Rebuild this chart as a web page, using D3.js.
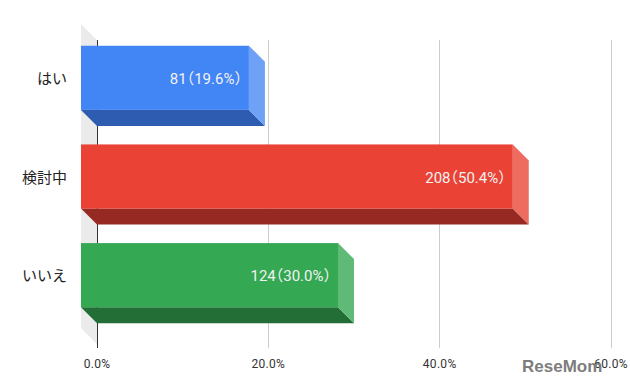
<!DOCTYPE html>
<meta charset="utf-8">
<style>
body { margin: 0; background: #fff; font-family: Roboto, 'Noto Sans CJK JP', sans-serif; }
.grid line { stroke: #cccccc; stroke-width: 1px; shape-rendering: crispEdges; }
.tick-label { font-size: 12px; fill: #333; text-anchor: middle; letter-spacing: 0.3px; }
.cat-label { font-family: 'Noto Sans CJK JP', sans-serif; font-size: 15px; fill: #222; text-anchor: end; }
.data-label { font-family: Roboto, 'Noto Sans CJK JP', sans-serif; font-size: 15px; fill: #f2f2f2; text-anchor: end; font-feature-settings: "halt" 1; }
.watermark { font-family: 'Liberation Sans', sans-serif; font-weight: bold; font-size: 17px; fill: #7d7d7d; }
</style>
<body>
<svg width="630" height="390"></svg>
<script src="https://d3js.org/d3.v7.min.js"></script>
<script>
// 3D-style horizontal bar chart
var categories = ["はい", "検討中", "いいえ"];
var counts = [81, 208, 124];
var percents = [19.6, 50.4, 30.0];
var ticks = [0, 20, 40, 60];
var faceColors = ["#4285f4", "#ea4335", "#34a853"];
var bottomColors = ["#2e5cb0", "#962a22", "#236e37"];
var sideColors = ["#6fa2f7", "#ee6b60", "#5fba78"];

var svg = d3.select("svg");
var depth = 16;

// back plane scale
var x = d3.scaleLinear().domain([0, 60]).range([97, 611]);
// front plane bands
var y = d3.scaleBand().domain(categories).range([28, 325])
    .paddingInner(0.35).paddingOuter(0.18);

var backTop = 40, backBottom = 344;

// left wall
svg.append("polygon")
    .attr("points", [[x(0) - depth, backTop - depth], [x(0), backTop],
                     [x(0), backBottom], [x(0) - depth, backBottom - depth]].join(" "))
    .attr("fill", "#ebebeb");

// gridlines
svg.append("g").attr("class", "grid")
  .selectAll("line")
  .data(ticks.slice(1))
  .enter().append("line")
    .attr("x1", function(d) { return x(d); })
    .attr("x2", function(d) { return x(d); })
    .attr("y1", backTop)
    .attr("y2", backBottom + 4);

svg.append("line")
    .attr("x1", x(0)).attr("x2", x(0))
    .attr("y1", backTop).attr("y2", backBottom + 4)
    .attr("stroke", "#333").attr("stroke-width", 1)
    .attr("shape-rendering", "crispEdges");

// tick labels
svg.selectAll(".tick-label")
  .data(ticks)
  .enter().append("text")
    .attr("class", "tick-label")
    .attr("x", function(d) { return x(d); })
    .attr("y", 368)
    .text(function(d) { return d.toFixed(1) + "%"; });

// bars
var bars = svg.selectAll(".bar")
  .data(categories)
  .enter().append("g")
    .attr("class", "bar");

bars.each(function(c, i) {
  var g = d3.select(this);
  var x0 = x(0) - depth, x1 = x(percents[i]) - depth;
  var y0 = y(c), y1 = y(c) + y.bandwidth();
  // bottom face
  g.append("polygon")
      .attr("points", [[x0, y1], [x1, y1], [x1 + depth, y1 + depth], [x0 + depth, y1 + depth]].join(" "))
      .attr("fill", bottomColors[i]);
  // right face
  g.append("polygon")
      .attr("points", [[x1, y0], [x1 + depth, y0 + depth], [x1 + depth, y1 + depth], [x1, y1]].join(" "))
      .attr("fill", sideColors[i]);
  // front face
  g.append("rect")
      .attr("x", x0).attr("y", y0)
      .attr("width", x1 - x0).attr("height", y1 - y0)
      .attr("fill", faceColors[i]);
  g.append("text")
      .attr("class", "data-label")
      .attr("x", x1 - 7)
      .attr("y", (y0 + y1) / 2 + 6)
      .text(counts[i] + "（" + percents[i].toFixed(1) + "%）");
  g.append("text")
      .attr("class", "cat-label")
      .attr("x", 67)
      .attr("y", (y0 + y1) / 2 + 6)
      .text(c);
});

svg.append("text")
    .attr("class", "watermark")
    .attr("x", 522).attr("y", 372)
    .text("ReseMom");
</script>
